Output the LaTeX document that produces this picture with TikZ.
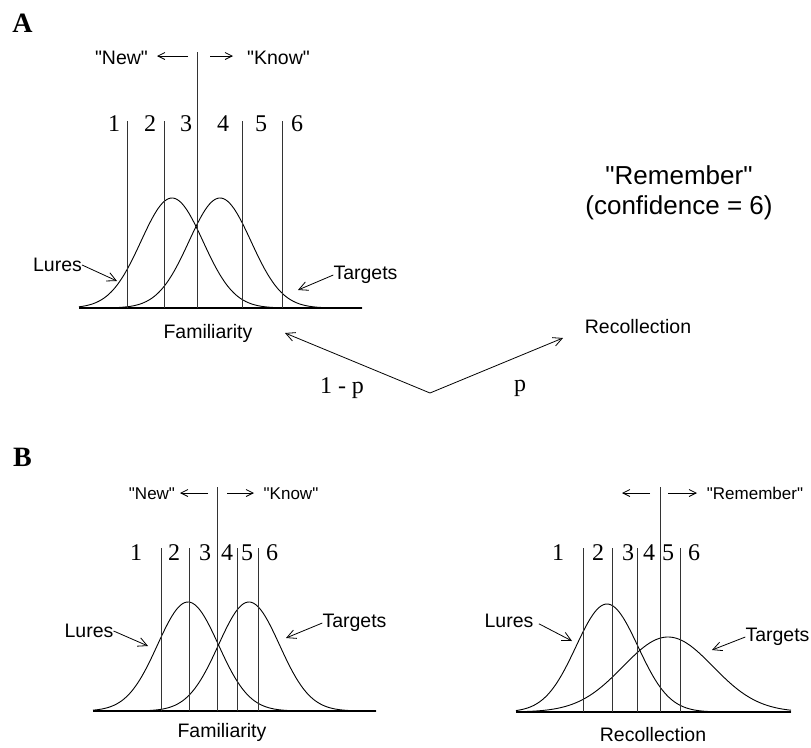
\documentclass[tikz,border=0pt]{standalone}
\usepackage{fontspec}
\setmainfont{Liberation Serif}
\newfontfamily\helv{Liberation Sans}
\usetikzlibrary{arrows.meta}
\tikzset{
  crit/.style={line width=0.9pt, black!80},
  axisln/.style={line width=1.4pt},
  curve/.style={line width=0.9pt},
  ptr/.style={-{Straight Barb[length=9pt,width=9pt]}, line width=0.8pt},
  side/.style={-{Straight Barb[length=7pt,width=7pt]}, line width=0.8pt},
  lbl/.style={font=\helv\fontsize{19.5}{22}\selectfont, inner sep=0pt},
  small/.style={font=\helv\fontsize{17}{20}\selectfont, inner sep=0pt},
  big/.style={font=\helv\fontsize{26}{30}\selectfont, inner sep=0pt, align=center},
  num/.style={font=\fontsize{24}{26}\selectfont, inner sep=0pt},
  panel/.style={font=\fontsize{28}{28}\selectfont\bfseries, inner sep=0pt},
}
% gaussian: xmin, xmax, mean, sd, height, base
\newcommand{\bell}[6]{%
  \draw[curve] plot[domain=#1:#2, samples=140, smooth]
    (\x, {#6 - #5*exp(-0.5*((\x-#3)/#4)^2)});}
\begin{document}
\begin{tikzpicture}[x=1pt, y=-1pt]
  \useasboundingbox (0,0) rectangle (811,747);
  % ---- panel A
  \node[panel] (pA) at (22.5,23.5) {A};
  \draw[axisln] (79,308) -- (362,308);
  \bell{79}{362}{172}{31}{110}{308}
  \bell{79}{362}{220}{31}{110}{308}
  \foreach \xx in {127,164,242,282} \draw[crit] (\xx,121) -- (\xx,308);
  \draw[crit] (197,52) -- (197,308);
  \foreach \n/\xx in {1/114,2/150,3/186,4/223,5/261,6/297}
    \node[num] (nA\n) at (\xx,124) {\n};
  \node[lbl] (newA) at (121.5,58) {"New"};
  \node[lbl] (knowA) at (278.5,58) {"Know"};
  \coordinate (newAl) at (188,56); \coordinate (newAt) at (157,56);
  \coordinate (knowAl) at (210,56); \coordinate (knowAt) at (233,56);
  \draw[side] (newAl) -- (newAt);
  \draw[side] (knowAl) -- (knowAt);
  \node[lbl] (luresA) at (57.5,265) {Lures};
  \node[lbl] (targA) at (365.5,275) {Targets};
  \coordinate (luresAt) at (117,281); \coordinate (targAt) at (298,290);
  \draw[ptr] (luresA.east) -- (luresAt);
  \draw[ptr] (targA.west) -- (targAt);
  \node[lbl] (famA) at (208,333) {Familiarity};
  \node[lbl] (recA) at (638,327) {Recollection};
  \node[big] (remA) at (679,193) {"Remember"\\(confidence = 6)};
  % split into the two routes
  \coordinate (fork) at (430,393);
  \coordinate (famtip) at (285,333); \coordinate (rectip) at (563,338);
  \draw[ptr] (fork) -- (famtip);
  \draw[ptr] (fork) -- (rectip);
  \node[num] (oneminus) at (342,388) {1 - p};
  \node[num] (pp) at (520,388) {p};
  % ---- panel B, familiarity
  \node[panel] (pB) at (22.5,457.5) {B};
  \draw[axisln] (93,711) -- (376,711);
  \bell{93}{376}{188}{30.5}{109}{711}
  \bell{93}{376}{249}{30.5}{109}{711}
  \foreach \xx in {161,189,237,258} \draw[crit] (\xx,548) -- (\xx,711);
  \draw[crit] (217,487) -- (217,711);
  \foreach \n/\xx in {1/136,2/174,3/205,4/227,5/247,6/272}
    \node[num] (nB\n) at (\xx,553) {\n};
  \node[small] (newB) at (152,494) {"New"};
  \node[small] (knowB) at (291,494) {"Know"};
  \coordinate (newBl) at (208,493); \coordinate (newBt) at (180,493);
  \coordinate (knowBl) at (227,493); \coordinate (knowBt) at (254,493);
  \draw[side] (newBl) -- (newBt);
  \draw[side] (knowBl) -- (knowBt);
  \node[lbl] (luresB) at (89,631) {Lures};
  \node[lbl] (targB) at (354.5,623) {Targets};
  \coordinate (luresBt) at (148,646); \coordinate (targBt) at (286,638);
  \draw[ptr] (luresB.east) -- (luresBt);
  \draw[ptr] (targB.west) -- (targBt);
  \node[lbl] (famB) at (222,732) {Familiarity};
  % ---- panel B, recollection
  \draw[axisln] (516,712) -- (791,712);
  \bell{516}{791}{607}{31}{108}{712}
  \bell{516}{791}{668}{45}{75}{712}
  \foreach \xx in {583,612,637,680} \draw[crit] (\xx,548) -- (\xx,712);
  \draw[crit] (660,487) -- (660,712);
  \foreach \n/\xx in {1/558,2/598,3/628,4/649,5/668,6/694}
    \node[num] (nC\n) at (\xx,553) {\n};
  \node[small] (remC) at (755,493) {"Remember"};
  \coordinate (remCl) at (650,493); \coordinate (remCt) at (622,493);
  \coordinate (remCr) at (668,493); \coordinate (remCs) at (697,493);
  \draw[side] (remCl) -- (remCt);
  \draw[side] (remCr) -- (remCs);
  \node[lbl] (luresC) at (509,621) {Lures};
  \node[lbl] (targC) at (777.5,637) {Targets};
  \coordinate (luresCt) at (572,641); \coordinate (targCt) at (712,650);
  \draw[ptr, shorten <=6pt] (luresC.east) -- (luresCt);
  \draw[ptr] (targC.west) -- (targCt);
  \node[lbl] (recC) at (653,735) {Recollection};
\end{tikzpicture}
\end{document}
